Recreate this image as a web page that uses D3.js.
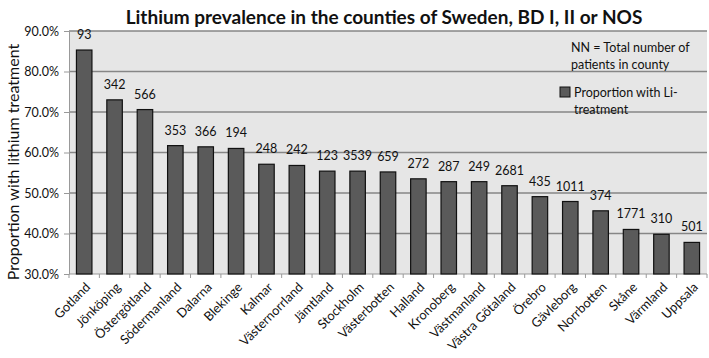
<!DOCTYPE html>
<html>
<head>
<meta charset="utf-8">
<script src="https://cdn.jsdelivr.net/npm/d3@7"></script>
<style>
  body { margin: 0; background: #fff; }
  text { font-family: Lato, "Open Sans", sans-serif; fill: #111; }
</style>
</head>
<body>
<div id="chart"></div>
<script>
const counties = ["Gotland", "Jönköping", "Östergötland", "Södermanland", "Dalarna", "Blekinge", "Kalmar",
  "Västernorrland", "Jämtland", "Stockholm", "Västerbotten", "Halland", "Kronoberg", "Västmanland",
  "Västra Götaland", "Örebro", "Gävleborg", "Norrbotten", "Skåne", "Värmland", "Uppsala"];
const proportion = [85.3, 73.0, 70.6, 61.7, 61.4, 61.0, 57.1, 56.8, 55.4, 55.4, 55.2, 53.5, 52.8, 52.8,
  51.8, 49.1, 47.9, 45.6, 41.0, 39.8, 37.8];
const patients = [93, 342, 566, 353, 366, 194, 248, 242, 123, 3539, 659, 272, 287, 249, 2681, 435,
  1011, 374, 1771, 310, 501];
const yTicks = [30, 40, 50, 60, 70, 80, 90];

const width = 709, height = 358;
const margin = { top: 31, right: 2, bottom: 84, left: 69 };

const svg = d3.select("#chart").append("svg")
  .attr("width", width)
  .attr("height", height);

const x = d3.scaleBand()
  .domain(counties)
  .range([margin.left, width - margin.right])
  .paddingInner(0.49)
  .paddingOuter(0.245);

const y = d3.scaleLinear()
  .domain([30, 90])
  .range([height - margin.bottom, margin.top]);

// plot background
svg.append("rect")
  .attr("x", margin.left)
  .attr("y", margin.top)
  .attr("width", width - margin.left - margin.right)
  .attr("height", y(30) - y(90))
  .attr("fill", "#e6e6e6");

// gridlines
svg.append("g")
  .selectAll("line")
  .data(yTicks.slice(1))
  .enter().append("line")
  .attr("x1", margin.left)
  .attr("x2", width - margin.right)
  .attr("y1", d => y(d))
  .attr("y2", d => y(d))
  .attr("stroke", "#868686")
  .attr("stroke-width", 1.3);

// y axis
const yAxis = svg.append("g")
  .attr("transform", `translate(${margin.left},0)`)
  .call(d3.axisLeft(y).tickValues(yTicks).tickFormat(d => d.toFixed(1) + "%").tickSize(5).tickSizeOuter(0));
yAxis.select(".domain").attr("stroke", "#999");
yAxis.selectAll(".tick line").attr("stroke", "#999");
yAxis.selectAll(".tick text").attr("font-size", 12.5).attr("fill", "#111").attr("dx", -2)
  .style("font-family", "Lato, sans-serif");

// x axis: ticks at band boundaries
const step = x.step();
const bounds = counties.map((c, i) => margin.left + i * step).concat([width - margin.right]);
svg.append("line")
  .attr("x1", margin.left).attr("x2", width - margin.right)
  .attr("y1", y(30)).attr("y2", y(30))
  .attr("stroke", "#999");
svg.append("g")
  .selectAll("line")
  .data(bounds)
  .enter().append("line")
  .attr("x1", d => d).attr("x2", d => d)
  .attr("y1", y(30)).attr("y2", y(30) + 4)
  .attr("stroke", "#999");

// bars
svg.append("g")
  .selectAll("rect")
  .data(counties)
  .enter().append("rect")
  .attr("x", d => x(d))
  .attr("y", (d, i) => y(proportion[i]))
  .attr("width", x.bandwidth())
  .attr("height", (d, i) => y(30) - y(proportion[i]))
  .attr("fill", "#5a5a5a")
  .attr("stroke", "#111")
  .attr("stroke-width", 1.2);

// patient counts
svg.append("g")
  .selectAll("text")
  .data(counties)
  .enter().append("text")
  .attr("x", d => x(d) + x.bandwidth() / 2)
  .attr("y", (d, i) => y(proportion[i]) - 11)
  .attr("text-anchor", "middle")
  .attr("font-size", 12.5)
  .text((d, i) => patients[i]);

// county labels
svg.append("g")
  .selectAll("text")
  .data(counties)
  .enter().append("text")
  .attr("transform", d => `translate(${x(d) + x.bandwidth() / 2 + 7},${y(30) + 14}) rotate(-45)`)
  .attr("text-anchor", "end")
  .attr("font-size", 12.8)
  .text(d => d);

// title
svg.append("text")
  .attr("x", 384)
  .attr("y", 24)
  .attr("text-anchor", "middle")
  .attr("font-size", 19)
  .attr("font-weight", "bold")
  .text("Lithium prevalence in the counties of Sweden, BD I, II or NOS");

// y label
svg.append("text")
  .attr("transform", `translate(19,162) rotate(-90)`)
  .attr("text-anchor", "middle")
  .attr("font-size", 16)
  .text("Proportion with lithium treatment");

// legend
const legend = svg.append("g");
legend.append("text").attr("x", 571).attr("y", 52).attr("font-size", 12.5).text("NN = Total number of");
legend.append("text").attr("x", 571).attr("y", 69).attr("font-size", 12.5).text("patients in county");
legend.append("rect").attr("x", 560).attr("y", 87).attr("width", 10).attr("height", 10)
  .attr("fill", "#5a5a5a").attr("stroke", "#111");
legend.append("text").attr("x", 574).attr("y", 97).attr("font-size", 12.5).text("Proportion with Li-");
legend.append("text").attr("x", 574).attr("y", 114).attr("font-size", 12.5).text("treatment");
</script>
</body>
</html>
